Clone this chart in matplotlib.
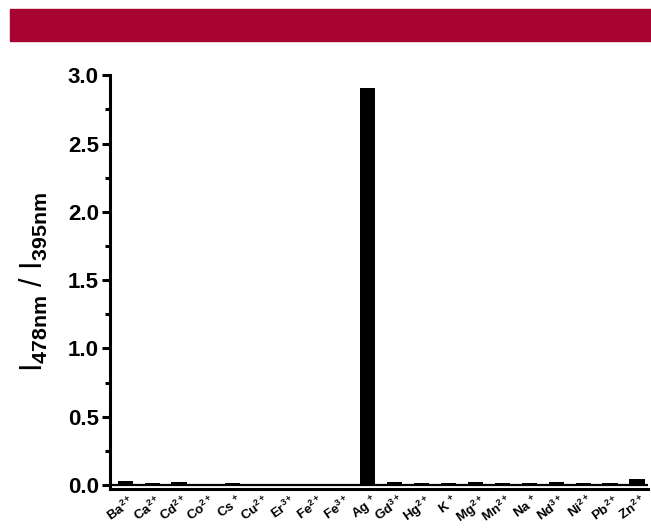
import numpy as np
import matplotlib
matplotlib.use('Agg')
from matplotlib import pyplot as plt
from matplotlib.patches import Rectangle
from matplotlib.ticker import MultipleLocator
from matplotlib.transforms import ScaledTranslation

# ions and measured ratio I478/I395
ions = ['Ba$^{2+}$', 'Ca$^{2+}$', 'Cd$^{2+}$', 'Co$^{2+}$', 'Cs $^{+}$',
        'Cu$^{2+}$', 'Er$^{3+}$', 'Fe$^{2+}$', 'Fe$^{3+}$', 'Ag $^{+}$',
        'Gd$^{3+}$', 'Hg$^{2+}$', 'K $^{+}$', 'Mg$^{2+}$', 'Mn$^{2+}$',
        'Na $^{+}$', 'Nd$^{3+}$', 'Ni$^{2+}$', 'Pb$^{2+}$', 'Zn$^{2+}$']
ratio = [0.025, 0.017, 0.022, 0.010, 0.012, 0.010, 0.010, 0.010, 0.010, 2.91,
         0.018, 0.014, 0.015, 0.020, 0.012, 0.016, 0.020, 0.016, 0.012, 0.045]
yticks = [0.0, 0.5, 1.0, 1.5, 2.0, 2.5, 3.0]

plt.rcParams['font.family'] = ['Liberation Sans', 'DejaVu Sans']
plt.rcParams['font.weight'] = 'bold'
plt.rcParams['mathtext.fontset'] = 'custom'
plt.rcParams['mathtext.rm'] = 'Liberation Sans:bold'
plt.rcParams['mathtext.it'] = 'Liberation Sans:bold'
plt.rcParams['mathtext.bf'] = 'Liberation Sans:bold'

fig = plt.figure(figsize=(6.51, 5.29), dpi=100)

# red banner on top
fig.patches.append(Rectangle((10/651, 1-41/529), 641/651, 32/529,
                             transform=fig.transFigure, color='#A80432', zorder=0))

ax = fig.add_axes([0.169, 0.0756, 0.826, 0.782])
x = np.arange(len(ions))
ax.bar(x, ratio, width=0.56, color='black', zorder=3)
ax.axhline(0, color='black', lw=1.6, zorder=2)

ax.set_xlim(-0.56, 19.4)
ax.set_ylim(-0.03, 3.0)
ax.set_yticks(yticks)
ax.yaxis.set_minor_locator(MultipleLocator(0.25))
ax.set_yticklabels(['%.1f' % v for v in yticks], fontsize=16, fontweight='bold')
ax.tick_params(axis='y', which='major', direction='out', length=6, width=2.2, pad=2)
ax.tick_params(axis='y', which='minor', direction='out', length=3.5, width=2.2)
ax.set_xticks(x)
ax.set_xticklabels(ions, rotation=35, ha='right', rotation_mode='anchor', fontsize=9.5)
ax.tick_params(axis='x', length=0, pad=3)
shift = ScaledTranslation(4/100, 0, fig.dpi_scale_trans)
for lab in ax.get_xticklabels():
    lab.set_transform(lab.get_transform() + shift)

for s in ['top', 'right']:
    ax.spines[s].set_visible(False)
for s in ['left', 'bottom']:
    ax.spines[s].set_linewidth(2.2)

ax.set_ylabel('I$_{478nm}$ / I$_{395nm}$', fontsize=22, labelpad=13)

fig.savefig('out.png', dpi=100)
